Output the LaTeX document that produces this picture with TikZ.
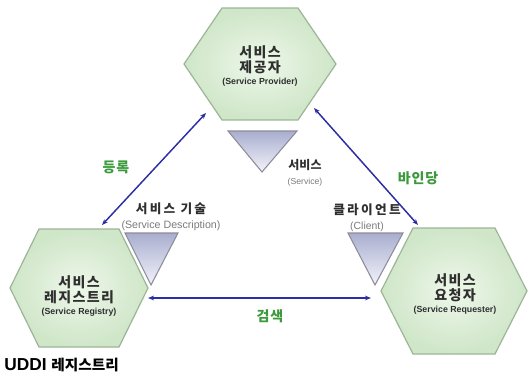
\documentclass[tikz,border=0pt]{standalone}
\usepackage{fontspec}
\setmainfont{Liberation Sans}
\newfontfamily\kr{Noto Sans CJK KR}
\usetikzlibrary{arrows.meta}
\definecolor{hexfillin}{HTML}{EEF7EA}
\definecolor{hexfillout}{HTML}{CFE6C8}
\definecolor{hexline}{HTML}{9DB597}
\definecolor{tritop}{HTML}{A9AECF}
\definecolor{tribot}{HTML}{F2F3FA}
\definecolor{triline}{HTML}{8C8C9A}
\definecolor{arrowcol}{HTML}{2E2EA3}
\definecolor{greentext}{HTML}{3C9A3C}
\definecolor{darktext}{HTML}{2F2F2F}
\definecolor{greytext}{HTML}{7A7A7A}
\newcommand{\hexa}[5]{% cx cy hw tw hh
  \path[hexstyle] (#1-#3,#2) -- (#1-#4,#2-#5) -- (#1+#4,#2-#5) -- (#1+#3,#2) -- (#1+#4,#2+#5) -- (#1-#4,#2+#5) -- cycle;}
\tikzset{
  hexstyle/.style={draw=hexline, line width=0.9pt, inner color=hexfillin, outer color=hexfillout},
  tristyle/.style={draw=triline, line width=0.8pt, top color=tritop, bottom color=tribot},
  hextext/.style={align=center, text=darktext, inner sep=0pt},
  trilabel/.style={align=center, text=darktext, inner sep=0pt},
  verb/.style={text=greentext, inner sep=0pt, font=\kr\bfseries\fontsize{10.5}{12}\selectfont\addfontfeature{LetterSpace=6}},
  link/.style={draw=arrowcol, line width=1.1pt, {Stealth[length=4.5pt,width=3.5pt]}-{Stealth[length=4.5pt,width=3.5pt]}},
}
\newcommand{\krl}{\kr\bfseries\fontsize{10.5}{13}\selectfont\addfontfeature{LetterSpace=10}}
\newcommand{\enb}{\bfseries\fontsize{6.6}{8}\selectfont}
\newcommand{\trk}{\kr\bfseries\fontsize{9.5}{11}\selectfont\addfontfeature{LetterSpace=18}}
\newcommand{\trks}{\kr\bfseries\fontsize{9}{11}\selectfont}
\newcommand{\tre}[1]{\fontsize{#1}{8}\selectfont\color{greytext}}
\begin{document}
\begin{tikzpicture}[x=0.75pt,y=-0.75pt]
\useasboundingbox (0,0) rectangle (528,376);
% hexagons
\hexa{260}{64}{76}{38}{56}
\hexa{79}{288}{69}{40}{59}
\hexa{454}{291}{73}{41}{63}
% triangles
\path[tristyle] (228,131) -- (297,131) -- (262,172) -- cycle;
\path[tristyle] (125,233) -- (178,233) -- (151,285) -- cycle;
\path[tristyle] (348,233) -- (403,233) -- (375,285) -- cycle;
% hexagon texts
\node[hextext] (prov) at (260,66) {{\krl 서비스}\\[-1pt]{\krl 제공자}\\[-3pt]{\enb (Service Provider)}};
\node[hextext] (reg) at (79,296) {{\krl 서비스}\\[-1pt]{\krl 레지스트리}\\[-3pt]{\enb (Service Registry)}};
\node[hextext] (req) at (455,294) {{\krl 서비스}\\[-1pt]{\krl 요청자}\\[-3pt]{\enb (Service Requester)}};
% triangle labels
\node[trilabel] (svc) at (305,173) {{\trks 서비스}\\[-1pt]{\tre{6.5} (Service)}};
\node[trilabel] (desc) at (171,217) {{\trk 서비스 기술}\\[-1pt]{\tre{8} (Service Description)}};
\node[trilabel] (cli) at (367,218) {{\trk 클라이언트}\\[-1pt]{\tre{7.8} (Client)}};
% verbs
\node[verb] (reglbl) at (116,167) {등록};
\node[verb] (bind) at (418,178) {바인당};
\node[verb] (find) at (270,316) {검색};
% caption
\node[inner sep=0pt, anchor=west, text=black] (uddi) at (4,365) {\bfseries\fontsize{13}{15}\selectfont UDDI {\kr\fontsize{11}{15}\selectfont 레지스트리}};
% connector endpoints
\coordinate (aL1) at (102,225);
\coordinate (aL2) at (206,113);
\coordinate (aR1) at (314,108);
\coordinate (aR2) at (418,225);
\coordinate (aH1) at (148,298);
\coordinate (aH2) at (371,298);
\draw[link] (aL1) -- (aL2);
\draw[link] (aR1) -- (aR2);
\draw[link] (aH1) -- (aH2);
\end{tikzpicture}
\end{document}
